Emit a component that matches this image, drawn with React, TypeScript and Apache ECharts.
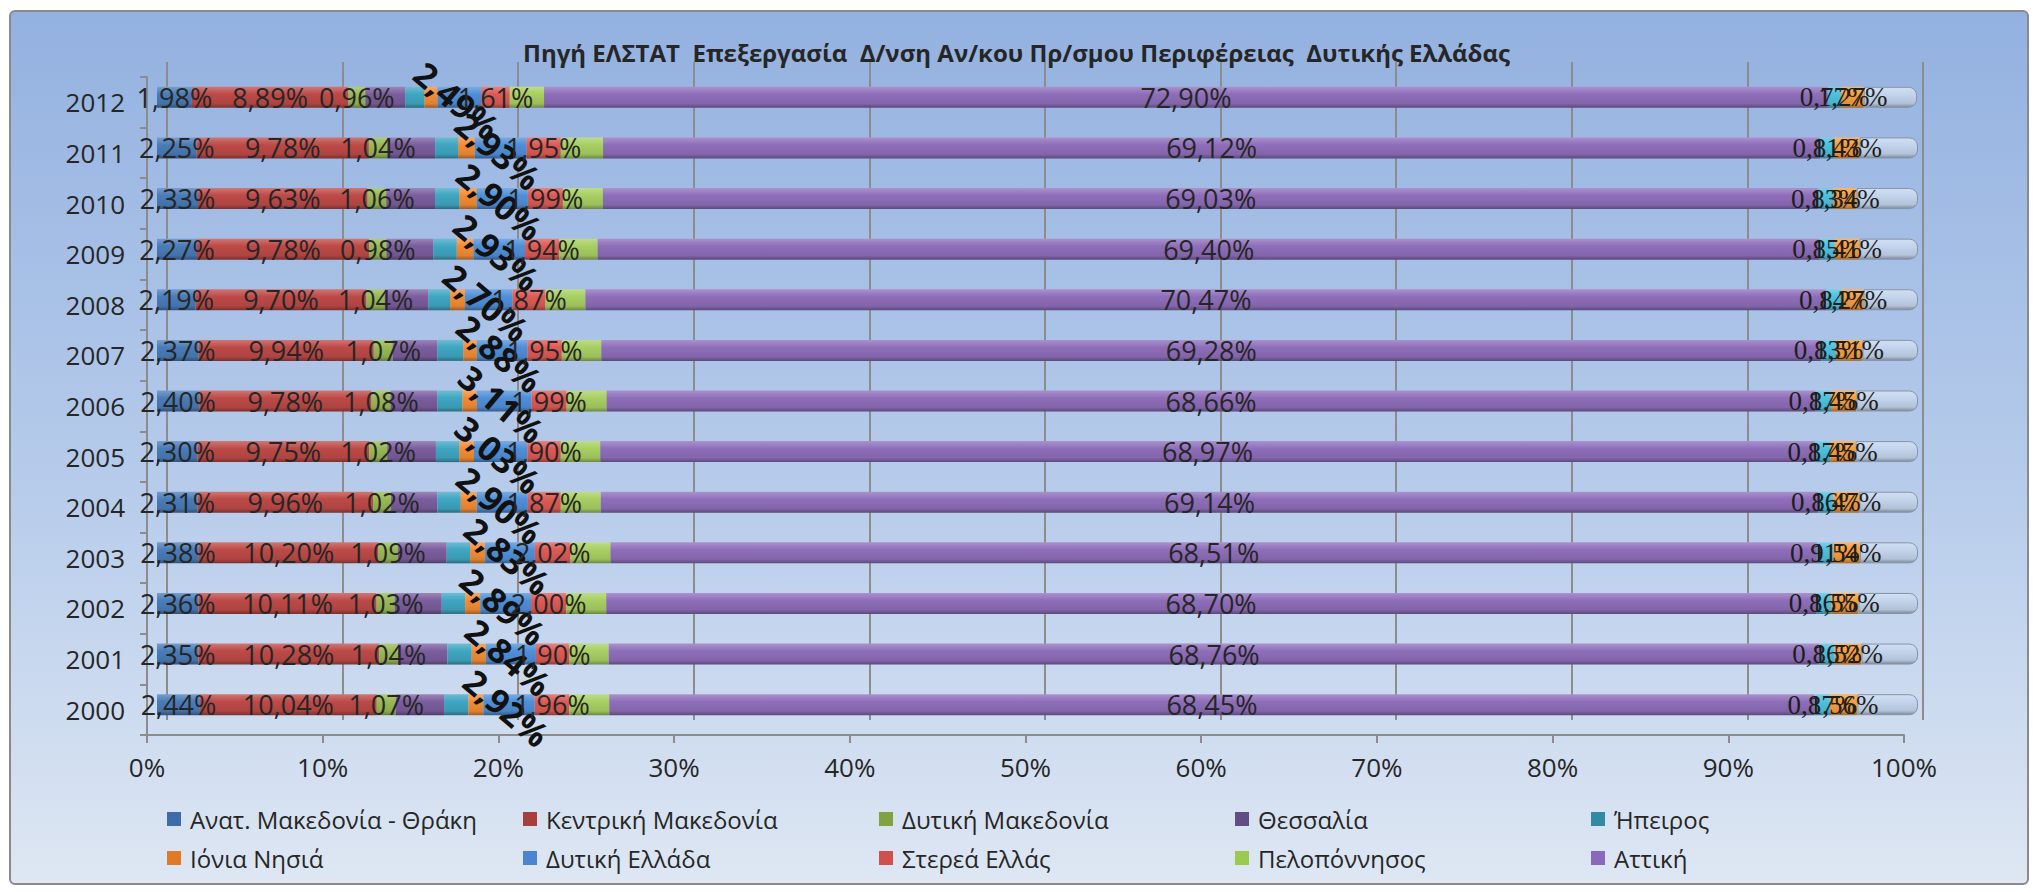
import React, { useEffect, useRef } from "react";
import * as echarts from "echarts";

// ---------- DATA (shares %, years bottom -> top) ----------
const years = ["2000", "2001", "2002", "2003", "2004", "2005", "2006", "2007", "2008", "2009", "2010", "2011", "2012"];
const xTicks = [0, 10, 20, 30, 40, 50, 60, 70, 80, 90, 100];

const anatMakedoniaThraki = [2.44, 2.35, 2.36, 2.38, 2.31, 2.30, 2.40, 2.37, 2.19, 2.27, 2.33, 2.25, 1.98];
const kentrikiMakedonia = [10.04, 10.28, 10.11, 10.20, 9.96, 9.75, 9.78, 9.94, 9.70, 9.78, 9.63, 9.78, 8.89];
const dytikiMakedonia = [1.07, 1.04, 1.03, 1.09, 1.02, 1.02, 1.08, 1.07, 1.04, 0.98, 1.06, 1.04, 0.96];
const thessalia = [2.75, 2.82, 2.67, 2.78, 2.63, 2.77, 2.66, 2.54, 2.48, 2.66, 2.77, 2.73, 2.27];
const ipeiros = [1.38, 1.38, 1.33, 1.33, 1.33, 1.33, 1.42, 1.48, 1.23, 1.33, 1.38, 1.30, 1.08];
const ioniaNisia = [0.85, 0.81, 0.85, 0.85, 0.91, 0.83, 0.82, 0.76, 0.85, 0.95, 0.99, 0.95, 0.75];
const dytikiEllada = [2.92, 2.84, 2.89, 2.83, 2.90, 3.03, 3.11, 2.88, 2.70, 2.93, 2.90, 2.93, 2.49];
const stereaEllas = [1.96, 1.90, 2.00, 2.02, 1.87, 1.90, 1.99, 1.95, 1.87, 1.94, 1.99, 1.95, 1.61];
const peloponnisos = [2.27, 2.23, 2.27, 2.27, 2.27, 2.24, 2.27, 2.24, 2.27, 2.18, 2.27, 2.40, 1.95];
const attiki = [68.45, 68.76, 68.70, 68.51, 69.14, 68.97, 68.66, 69.28, 70.47, 69.40, 69.03, 69.12, 72.90];
const voreioAigaio = [0.87, 0.86, 0.86, 0.91, 0.86, 0.87, 0.87, 0.83, 0.84, 0.85, 0.83, 0.81, 0.77];
const notioAigaio = [1.56, 1.52, 1.55, 1.54, 1.47, 1.45, 1.45, 1.51, 1.27, 1.41, 1.34, 1.43, 1.27];
const kriti = [3.44, 3.21, 3.38, 3.29, 3.33, 3.54, 3.49, 3.15, 3.09, 3.32, 3.48, 3.31, 3.03];

const seriesNames = [
  "Ανατ. Μακεδονία - Θράκη",
  "Κεντρική Μακεδονία",
  "Δυτική Μακεδονία",
  "Θεσσαλία",
  "Ήπειρος",
  "Ιόνια Νησιά",
  "Δυτική Ελλάδα",
  "Στερεά Ελλάς",
  "Πελοπόννησος",
  "Αττική",
  "Βόρειο Αιγαίο",
  "Νότιο Αιγαίο",
  "Κρήτη",
];
const seriesValues = [
  anatMakedoniaThraki, kentrikiMakedonia, dytikiMakedonia, thessalia, ipeiros, ioniaNisia,
  dytikiEllada, stereaEllas, peloponnisos, attiki, voreioAigaio, notioAigaio, kriti,
];
const barColors = [
  "#4A7CB8", "#BD4A47", "#98B954", "#7B5E9E", "#3FA6C2", "#F28C35",
  "#4F8FD8", "#DE5A55", "#A8CF62", "#8E6EBA", "#4EC1DE", "#F89E3E", "#C3D4EC",
];
const legendColors = [
  "#3E6CA8", "#A6403D", "#7FA243", "#634B84", "#318AA3", "#E07A26",
  "#4A86D0", "#D0504B", "#9ACB4F", "#8A68BC",
];
const labelledNormal = [0, 1, 2, 7, 9];
const labelledSerif = [10, 11];
const labelledRotated = 6;

const FONT = '"Open Sans", "Noto Sans", sans-serif';
const TEXT = "#262626";

function mix(hex: string, f: number): string {
  const n = parseInt(hex.slice(1), 16);
  let r = (n >> 16) & 255, g = (n >> 8) & 255, b = n & 255;
  const t = f > 0 ? 255 : 0;
  const a = Math.abs(f);
  r = Math.round(r + (t - r) * a);
  g = Math.round(g + (t - g) * a);
  b = Math.round(b + (t - b) * a);
  return "#" + ((1 << 24) + (r << 16) + (g << 8) + b).toString(16).slice(1);
}

const fmt = (p: any) => Number(p.value).toFixed(2).replace(".", ",") + "%";

function buildOption(): any {
  const series = seriesValues.map((vals, i) => {
    const base = barColors[i];
    let label: any = { show: false };
    if (labelledNormal.includes(i)) {
      label = { show: true, position: "inside", fontSize: 27, color: TEXT, fontFamily: FONT, formatter: fmt };
    } else if (labelledSerif.includes(i)) {
      label = { show: true, position: "inside", fontSize: 27, color: "#1e1e1e", fontFamily: '"Liberation Serif", serif', formatter: fmt };
    } else if (i === labelledRotated) {
      label = {
        show: true, position: "inside", rotate: -40, fontSize: 34, fontWeight: "bold",
        color: "#111", fontFamily: FONT, formatter: fmt, offset: [0, 4],
      };
    }
    return {
      name: seriesNames[i],
      type: "bar",
      stack: "total",
      xAxisIndex: 1,
      yAxisIndex: 1,
      barWidth: 21,
      data: vals,
      label,
      emphasis: { disabled: true },
      itemStyle: {
        color: new echarts.graphic.LinearGradient(0, 0, 0, 1, [
          { offset: 0, color: mix(base, 0.25) },
          { offset: 0.35, color: base },
          { offset: 0.8, color: mix(base, -0.08) },
          { offset: 1, color: mix(base, -0.35) },
        ]),
        borderRadius: i === seriesValues.length - 1 ? [0, 8, 8, 0] : 0,
        borderColor: i === seriesValues.length - 1 ? "#8593A8" : undefined,
        borderWidth: i === seriesValues.length - 1 ? 1 : 0,
      },
    };
  });

  const legends = seriesNames.slice(0, 10).map((name, i) => ({
    data: [{ name, itemStyle: { color: legendColors[i] } }],
    left: 162 + (i % 5) * 356,
    top: i < 5 ? 802 : 841,
    icon: "rect",
    itemWidth: 14,
    itemHeight: 14,
    selectedMode: false,
    textStyle: { fontSize: 24, color: TEXT, fontFamily: FONT, padding: [0, 0, 0, 4] },
  }));

  const valueAxis = (gridIndex: number, extra: any) => ({
    type: "value", gridIndex, min: 0, max: 100, interval: 10,
    axisLabel: { show: false }, axisLine: { show: false }, axisTick: { show: false },
    splitLine: { show: false },
    ...extra,
  });
  const catAxis = (gridIndex: number, extra: any) => ({
    type: "category", gridIndex, data: years,
    axisLabel: { show: false }, axisLine: { show: false }, axisTick: { show: false },
    splitLine: { show: false },
    ...extra,
  });

  return {
    animation: false,
    textStyle: { fontFamily: FONT },
    graphic: [
      {
        type: "rect",
        z: -10,
        shape: { x: 10, y: 11, width: 2018, height: 873, r: 5 },
        style: {
          fill: new echarts.graphic.LinearGradient(0, 0, 0, 1, [
            { offset: 0, color: "#93B1E0" },
            { offset: 0.55, color: "#B7CCEB" },
            { offset: 1, color: "#DEE7F3" },
          ]),
          stroke: "#8A8A8A",
          lineWidth: 2,
        },
        silent: true,
      },
    ],
    title: {
      text: "Πηγή ΕΛΣΤΑΤ  Επεξεργασία  Δ/νση Αν/κου Πρ/σμου Περιφέρειας  Δυτικής Ελλάδας",
      left: "center",
      top: 35,
      textStyle: { fontSize: 24, fontWeight: "bold", color: TEXT, fontFamily: FONT },
    },
    legend: legends,
    grid: [
      { left: 167, top: 62, width: 1756, height: 658 },
      { left: 157, top: 72, width: 1761, height: 658 },
      { left: 147, top: 77, width: 1757, height: 658 },
    ],
    xAxis: [
      valueAxis(0, { splitLine: { show: true, lineStyle: { color: "#8C8C8C", width: 2 } } }),
      valueAxis(1, {}),
      valueAxis(2, {
        axisLabel: {
          show: true, fontSize: 26, color: TEXT, margin: 19, fontFamily: FONT,
          formatter: (v: number) => (xTicks.includes(v) ? v + "%" : ""),
        },
        axisLine: { show: true, lineStyle: { color: "#8C8C8C", width: 2 } },
        axisTick: { show: true, length: 8, lineStyle: { color: "#8C8C8C", width: 2 } },
      }),
    ],
    yAxis: [
      catAxis(0, {}),
      catAxis(1, {}),
      catAxis(2, {
        axisLabel: { show: true, fontSize: 26, color: TEXT, margin: 22, fontFamily: FONT },
        axisLine: { show: true, lineStyle: { color: "#8C8C8C", width: 2 } },
        axisTick: { show: true, length: 7, lineStyle: { color: "#8C8C8C", width: 2 } },
      }),
    ],
    series,
  };
}

export default function App() {
  const ref = useRef<HTMLDivElement>(null);
  useEffect(() => {
    if (!ref.current) return;
    const chart = echarts.init(ref.current, null, { renderer: "svg" });
    chart.setOption(buildOption());
    return () => chart.dispose();
  }, []);
  return (
    <div
      ref={ref}
      style={{ position: "absolute", left: 0, top: 0, width: 2033, height: 892, background: "#ffffff" }}
    />
  );
}
